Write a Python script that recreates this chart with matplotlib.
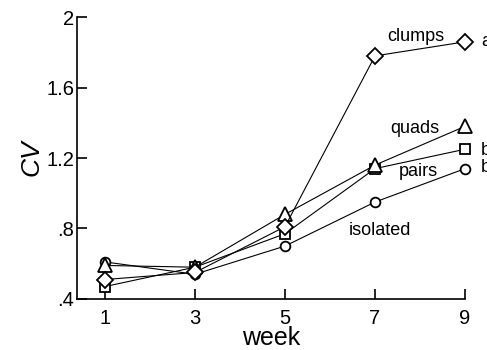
import matplotlib
matplotlib.use("Agg")
import matplotlib.pyplot as plt

plt.rcParams['font.family'] = ['Liberation Sans', 'DejaVu Sans']

weeks = [1, 3, 5, 7, 9]
clumps = [0.51, 0.55, 0.81, 1.78, 1.86]
quads = [0.59, 0.58, 0.88, 1.16, 1.38]
pairs = [0.47, 0.58, 0.77, 1.14, 1.25]
isolated = [0.61, 0.54, 0.70, 0.95, 1.14]

yticks = [0.4, 0.8, 1.2, 1.6, 2.0]
ytick_labels = ['.4', '.8', '1.2', '1.6', '2']

fig = plt.figure(figsize=(4.87, 3.5), dpi=100)
ax = fig.add_axes([0.158, 0.146, 0.797, 0.805])

style = dict(color='black', lw=0.8, mfc='white', mec='black', mew=1.3, clip_on=False)
ax.plot(weeks, isolated, marker='o', ms=7, **style)
ax.plot(weeks, pairs, marker='s', ms=7, **style)
ax.plot(weeks, quads, marker='^', ms=10, **style)
ax.plot(weeks, clumps, marker='D', ms=8, **style)

fs = 13
ax.text(7.9, 1.89, 'clumps', fontsize=fs, ha='center', va='center')
ax.text(7.88, 1.37, 'quads', fontsize=fs, ha='center', va='center')
ax.text(7.96, 1.125, 'pairs', fontsize=fs, ha='center', va='center')
ax.text(7.12, 0.79, 'isolated', fontsize=fs, ha='center', va='center')
ax.text(9.36, 1.86, 'a', fontsize=fs, ha='left', va='center', clip_on=False)
ax.text(9.36, 1.245, 'b', fontsize=fs, ha='left', va='center', clip_on=False)
ax.text(9.36, 1.145, 'b', fontsize=fs, ha='left', va='center', clip_on=False)

ax.set_xlim(0.38, 9)
ax.set_ylim(0.4, 2)
ax.set_xticks(weeks)
ax.set_yticks(yticks)
ax.set_yticklabels(ytick_labels)
ax.tick_params(direction='in', length=7, width=1.2, labelsize=14.5)
ax.tick_params(axis='x', pad=7)
ax.tick_params(axis='y', pad=2)
ax.spines['top'].set_visible(False)
ax.spines['right'].set_visible(False)
ax.spines['left'].set_linewidth(1.2)
ax.spines['bottom'].set_linewidth(1.2)
ax.set_xlabel('week', fontsize=18, labelpad=-1)
ax.set_ylabel('CV', fontsize=19, style='italic', labelpad=2)

fig.savefig('out.png', dpi=100)
